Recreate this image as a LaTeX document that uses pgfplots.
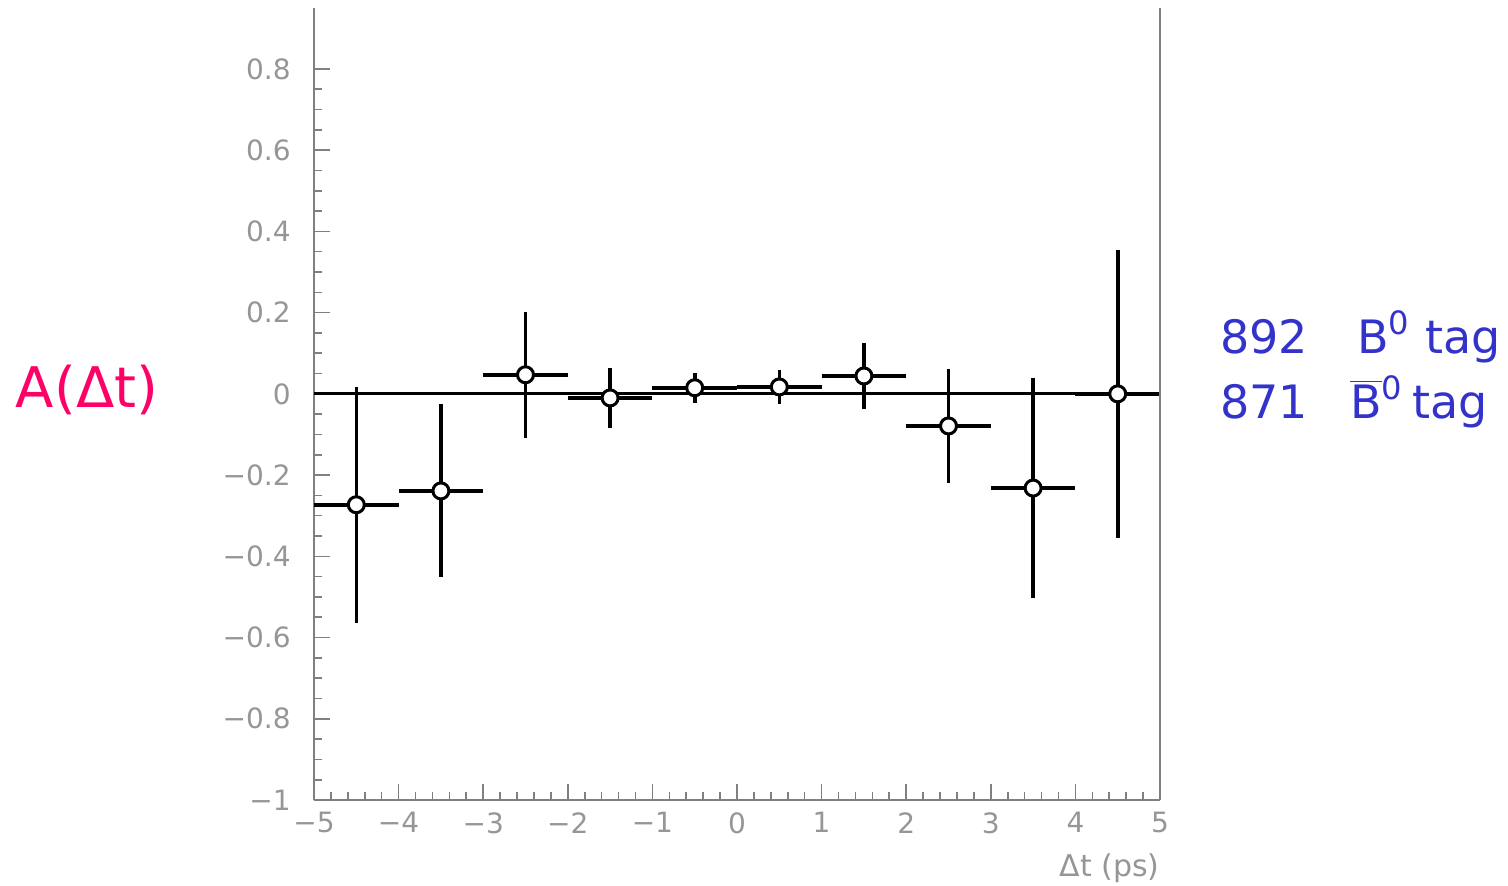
\documentclass[border=0pt]{standalone}
\usepackage{fontspec}
\setmainfont{DejaVu Sans}
\usepackage{pgfplots}
\pgfplotsset{compat=1.18}
\usepackage{pgfplotstable}
\definecolor{axgray}{RGB}{128,128,128}
\definecolor{lblgray}{RGB}{150,150,150}
\definecolor{amag}{RGB}{255,0,102}
\definecolor{tagblue}{RGB}{51,51,204}

\pgfplotstableread{
x     y       ex   ey
-4.5  -0.273  0.5  0.291
-3.5  -0.239  0.5  0.213
-2.5   0.047  0.5  0.155
-1.5  -0.010  0.5  0.073
-0.5   0.015  0.5  0.037
 0.5   0.017  0.5  0.042
 1.5   0.044  0.5  0.081
 2.5  -0.079  0.5  0.140
 3.5  -0.232  0.5  0.270
 4.5   0.000  0.5  0.355
}\asym

\begin{document}
\begin{tikzpicture}
\useasboundingbox (-157pt,-42.5pt) rectangle (597pt,400pt);
\begin{axis}[
    at={(0,0)}, anchor=south west,
    scale only axis,
    width=423pt, height=396pt,
    xmin=-5, xmax=5, ymin=-1, ymax=0.95,
    axis lines*=left,
    axis line style={-, draw=axgray, line width=0.8pt},
    tick style={draw=axgray, line width=0.8pt},
    tick align=inside,
    major tick length=8pt,
    minor tick length=4pt,
    xtick={-5,-4,...,5},
    xticklabels={−5,−4,−3,−2,−1,0,1,2,3,4,5},
    ytick={-1,-0.8,-0.6,-0.4,-0.2,0,0.2,0.4,0.6,0.8},
    yticklabels={−1,−0.8,−0.6,−0.4,−0.2,0,0.2,0.4,0.6,0.8},
    minor x tick num=4,
    minor y tick num=3,
    ticklabel style={font=\fontsize{14}{16}\selectfont, text=lblgray},
    yticklabel style={inner sep=0pt, xshift=-11.5pt},
    xticklabel style={inner sep=0pt, yshift=-6pt},
    clip=false,
]
\addplot[black, line width=1.6pt] coordinates {(-5,0) (5,0)};
\addplot[black, line width=1.8pt, only marks,
    mark=*, mark size=4pt,
    mark options={fill=white, draw=black, line width=1.5pt},
    error bars/.cd, x dir=both, x explicit, y dir=both, y explicit,
    error mark=none,
    error bar style={line width=1.8pt, black}]
    table[x=x, y=y, x error=ex, y error=ey] {\asym};
\draw[axgray, line width=0.8pt] (rel axis cs:1,0) -- (rel axis cs:1,1);
\end{axis}
\node[anchor=east, text=lblgray, font=\fontsize{15}{17}\selectfont, inner sep=0pt] at (423pt,-34pt) {Δt (ps)};
\node[text=amag, font=\fontsize{28}{32}\selectfont, inner sep=0pt] at (-113.5pt,205pt) {A(Δt)};
\begin{scope}[tagblue, font=\fontsize{23}{26}\selectfont]
\node[anchor=base west, inner sep=0pt, text=tagblue] at (453pt,223.5pt) {892};
\node[anchor=base west, inner sep=0pt, text=tagblue] at (521.5pt,223.5pt) {B$^{\mathrm{0}}$};
\node[anchor=base west, inner sep=0pt, text=tagblue] at (555.5pt,223.5pt) {tag};
\node[anchor=base west, inner sep=0pt, text=tagblue] at (453pt,191pt) {871};
\node[anchor=base west, inner sep=0pt, text=tagblue] at (518pt,191pt) {$\overline{\hbox{B}}$$^{\mathrm{0}}$};
\node[anchor=base west, inner sep=0pt, text=tagblue] at (549pt,191pt) {tag};
\end{scope}
\end{tikzpicture}
\end{document}
